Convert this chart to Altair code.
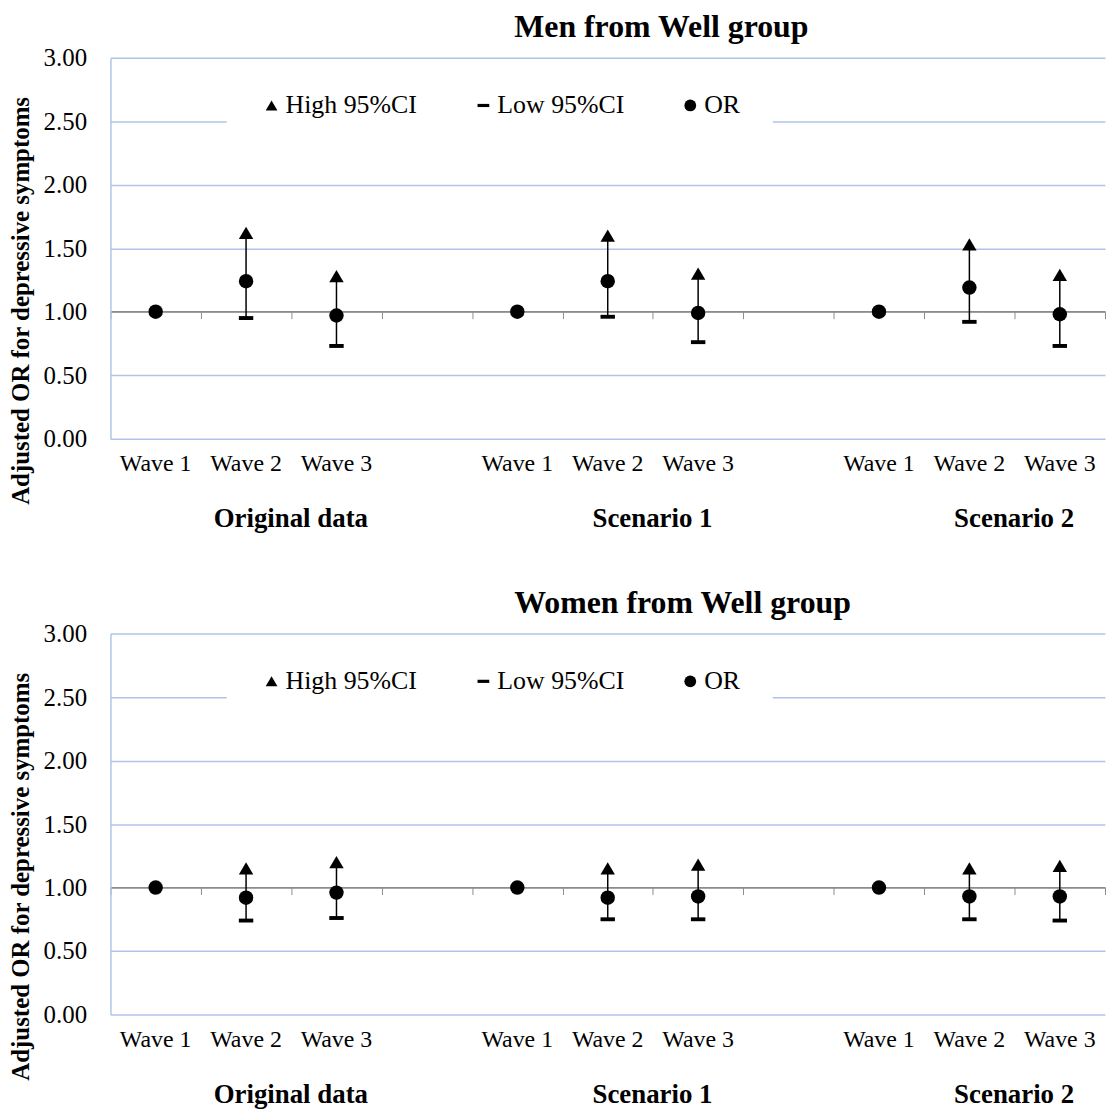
import altair as alt
import pandas as pd

# ---- data ----
keys = ["a1", "a2", "a3", "g1", "b1", "b2", "b3", "g2", "c1", "c2", "c3"]
data_keys = ["a1", "a2", "a3", "b1", "b2", "b3", "c1", "c2", "c3"]
wave_labels = ["Wave 1", "Wave 2", "Wave 3"] * 3
group_names = ["Original data", "Scenario 1", "Scenario 2"]
group_label_keys = ["a2", "b2", "c2"]
series_names = ["High 95%CI", "Low 95%CI", "OR"]

men_or = [1.00, 1.24, 0.97, 1.00, 1.24, 0.99, 1.00, 1.19, 0.98]
men_high = [None, 1.62, 1.28, None, 1.60, 1.30, None, 1.53, 1.29]
men_low = [None, 0.95, 0.73, None, 0.96, 0.76, None, 0.92, 0.73]

women_or = [1.00, 0.92, 0.96, 1.00, 0.92, 0.93, 1.00, 0.93, 0.93]
women_high = [None, 1.15, 1.20, None, 1.15, 1.18, None, 1.15, 1.17]
women_low = [None, 0.74, 0.76, None, 0.75, 0.75, None, 0.75, 0.74]

y_ticks = [0.0, 0.5, 1.0, 1.5, 2.0, 2.5, 3.0]

# ---- style ----
FONT = "'Liberation Serif', 'Times New Roman', Tinos, Times, serif"
W, H = 1000, 383
GRID = "#b1c4e8"
AXIS_GRAY = "#8c8c8c"
TRI = "M0,-0.85L1,0.85L-1,0.85Z"
DASH = "M-1,-0.27L1,-0.27L1,0.27L-1,0.27Z"

label_expr = " : ".join(
    f"datum.value == '{k}' ? '{lab}'" for k, lab in zip(data_keys, wave_labels)
) + " : ''"

xscale = alt.Scale(type="band", domain=keys, paddingInner=0, paddingOuter=0)
yscale = alt.Scale(domain=[0, 3], nice=False, zero=True)

y_axis = alt.Axis(
    values=y_ticks, format=".2f",
    title="Adjusted OR for depressive symptoms",
    titleFont=FONT, titleFontSize=25, titleFontWeight="bold", titleColor="black",
    titleY=244, titlePadding=10,
    labelFont=FONT, labelFontSize=25, labelColor="black", labelPadding=24,
    ticks=False, domainColor=GRID, domainWidth=1.5,
    gridColor={"condition": {"test": "datum.value === 1", "value": AXIS_GRAY}, "value": GRID},
    gridWidth=1.5,
)

label_axis = alt.Axis(
    orient="bottom", labels=True, domain=False, ticks=False, grid=False, title=None,
    labelExpr=label_expr, labelFont=FONT, labelFontSize=24, labelColor="black",
    labelPadding=13, labelAngle=0,
)

line_axis = alt.Axis(
    orient="bottom", offset=-H / 3.0, labels=False, domain=True,
    domainColor=AXIS_GRAY, domainWidth=1, ticks=True, tickBand="extent",
    tickColor=AXIS_GRAY, tickSize=7, tickWidth=1, grid=False, title=None,
)


def panel(title, or_vals, high_vals, low_vals):
    rows = []
    for k, h, l in zip(data_keys, high_vals, low_vals):
        if h is not None:
            rows.append(dict(key=k, series="High 95%CI", value=h))
        if l is not None:
            rows.append(dict(key=k, series="Low 95%CI", value=l))
    for k, o in zip(data_keys, or_vals):
        rows.append(dict(key=k, series="OR", value=o))
    long_df = pd.DataFrame(rows)
    ci_df = pd.DataFrame(
        [dict(key=k, low=l, high=h) for k, h, l in zip(data_keys, high_vals, low_vals) if h is not None]
    )
    grp_df = pd.DataFrame(dict(key=group_label_keys, name=group_names))

    rules = alt.Chart(ci_df).mark_rule(color="black", strokeWidth=1.5).encode(
        x=alt.X("key:N", scale=xscale, axis=line_axis),
        y=alt.Y("low:Q", scale=yscale, axis=y_axis),
        y2="high:Q",
    )

    pts = alt.Chart(long_df).mark_point(filled=True, size=210, opacity=1).encode(
        x=alt.X("key:N", scale=xscale, axis=label_axis),
        y=alt.Y("value:Q", scale=yscale, axis=y_axis),
        shape=alt.Shape(
            "series:N",
            scale=alt.Scale(domain=series_names, range=[TRI, DASH, "circle"]),
            legend=alt.Legend(
                title=None, orient="none", legendX=117, legendY=3,
                direction="horizontal", fillColor="white", padding=32,
                labelFont=FONT, labelFontSize=26, labelColor="black",
                symbolSize=140, symbolFillColor="black", symbolStrokeWidth=0,
                symbolOpacity=1, columnPadding=53, labelOffset=1, labelLimit=400,
                zindex=1,
            ),
        ),
        fill=alt.value("black"),
        stroke=alt.Stroke(
            "series:N",
            scale=alt.Scale(domain=series_names, range=["black", "black", "#dba3a3"]),
            legend=None,
        ),
        strokeWidth=alt.StrokeWidth(
            "series:N",
            scale=alt.Scale(domain=series_names, range=[0, 0, 2.5]),
            legend=None,
        ),
    )

    grp = alt.Chart(grp_df).mark_text(
        font=FONT, fontSize=27, fontWeight="bold", baseline="middle",
        dx=45, dy=81, color="black",
    ).encode(
        x=alt.X("key:N", scale=xscale, axis=None),
        y=alt.YDatum(0, scale=yscale, axis=y_axis),
        text="name:N",
    )

    return alt.layer(rules, pts, grp).resolve_axis(x="independent").properties(
        width=W, height=H,
        title=alt.TitleParams(
            title, font=FONT, fontSize=32, fontWeight="bold", color="black",
            anchor="start", frame="group", dx=406, offset=2,
        ),
    )


top = panel("Men from Well group", men_or, men_high, men_low)
bottom = panel("Women from Well group", women_or, women_high, women_low)

chart = alt.vconcat(top, bottom, spacing=55).resolve_scale(
    shape="independent", stroke="independent", strokeWidth="independent"
).resolve_legend(shape="independent").properties(
    padding={"left": 0, "right": 0, "top": 0, "bottom": 0},
    background="white",
).configure(font=FONT).configure_axis(labelFont=FONT).configure_legend(
    labelFont=FONT
).configure_view(stroke=None)

chart.save("out.html", embed_options={"renderer": "svg", "actions": False})
